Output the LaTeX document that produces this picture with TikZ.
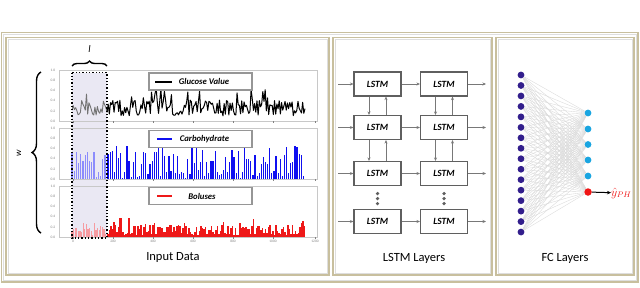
\documentclass[tikz,border=0pt]{standalone}
\usepackage{fontspec}
\setmainfont{Carlito}
\usetikzlibrary{decorations.pathreplacing,arrows.meta}
\definecolor{tanc}{RGB}{200,191,158}
\definecolor{shadc}{RGB}{222,222,222}
\definecolor{framec}{RGB}{200,200,200}
\definecolor{tickc}{RGB}{130,130,130}
\definecolor{winc}{RGB}{234,232,243}
\definecolor{glugray}{RGB}{115,115,115}
\definecolor{cblue}{RGB}{15,15,240}
\definecolor{cbluel}{RGB}{140,140,252}
\definecolor{bred}{RGB}{238,25,25}
\definecolor{bredl}{RGB}{246,155,160}
\definecolor{legc}{RGB}{150,150,150}
\definecolor{lstmc}{RGB}{95,95,95}
\definecolor{arrc}{RGB}{120,120,120}
\definecolor{indigo}{RGB}{50,30,140}
\definecolor{cyanc}{RGB}{25,165,225}
\definecolor{redn}{RGB}{240,20,20}
\definecolor{edgec}{RGB}{218,218,218}
\begin{document}
\begin{tikzpicture}[x=1pt,y=-1pt,
  tanline/.style={draw=tanc,line width=1.6pt},
  shadline/.style={draw=shadc,line width=0.8pt},
  chartframe/.style={draw=framec,line width=0.6pt},
  ticklab/.style={font=\fontsize{3.6}{4}\selectfont,text=tickc,inner sep=0pt},
  legbox/.style={draw=legc,line width=1.1pt,fill=white,minimum width=103pt,minimum height=17pt,inner sep=0pt},
  legtext/.style={font=\fontsize{8.7}{9}\selectfont\bfseries\itshape,inner sep=0pt},
  lstmbox/.style={draw=lstmc,line width=1.1pt,fill=white,minimum width=47pt,minimum height=24pt,inner sep=0pt,font=\fontsize{9.5}{10}\selectfont\bfseries\itshape},
  garrow/.style={draw=arrc,line width=0.9pt,-{Stealth[length=3.5pt,width=3pt]}},
  title/.style={font=\fontsize{12.5}{13}\selectfont,inner sep=0pt},
  inneuron/.style={circle,fill=indigo,minimum size=6.8pt,inner sep=0pt},
  hneuron/.style={circle,fill=cyanc,minimum size=6.8pt,inner sep=0pt},
  oneuron/.style={circle,fill=redn,minimum size=7.5pt,inner sep=0pt},
  fcedge/.style={draw=edgec,line width=0.35pt},
  dotc/.style={circle,fill=lstmc,minimum size=3.6pt,inner sep=0pt}
]
\useasboundingbox (0,0) rectangle (640,287);
\fill[white] (0,0) rectangle (640,287);

% ---------- frames ----------
\draw[tanline] (1.5,32.5) rectangle (638,282);
\draw[shadline] (3.5,34.5) rectangle (636,280);
\foreach \a/\b in {6/329,333/492,496/634}{
  \draw[tanline] (\a,37.5) rectangle (\b,275);
  \draw[shadline] (\a+2,39.5) rectangle (\b-2,273);
}

% ---------- Input data panel ----------
\fill[winc] (72,72.5) rectangle (107,238);

\foreach \t/\k in {70.5/1,128.5/2,186.5/3}{
  \draw[chartframe] (59,\t) rectangle (317,\t+50.5);
  \foreach \v/\lab in {0/1.0,1/0.8,2/0.6,3/0.4,4/0.2,5/0.0}{
    \node[ticklab] (yt\k\v) at (53,\t+\v*10.1) {\lab};
  }
  \foreach \xx in {73,113,153,193,233,273,315}{
    \draw[draw=tickc,line width=0.4pt] (\xx,\t+50.5) -- (\xx,\t+52);
  }
}
\foreach \xx/\lab/\k in {73/0/a,113/200/b,153/400/c,193/600/d,233/800/e,273/1000/f,315/1200/g}{
  \node[ticklab] (xt\k) at (\xx,241.5) {\lab};
}

\pgfmathsetseed{4242}
% glucose
\draw[glugray,line width=0.9pt,line join=round] plot[domain=72:107,samples=30] (\x,{121-50*(0.12+0.32*rnd+0.18*(rnd>0.85))});
\draw[black,line width=1pt,line join=round] plot[domain=107:305,samples=170] (\x,{121-50*(0.1+0.32*rnd+0.25*(rnd>0.88))});

% carbohydrate bars
\foreach \i in {72,74.2,...,106}{
  \pgfmathsetmacro\h{rnd<0.55 ? 0.3+0.25*rnd : 0.01+0.17*rnd}
  \draw[cbluel,line width=1.2pt] (\i,179) -- (\i,179-50*\h);
}
\foreach \i in {108,110.1,...,305}{
  \pgfmathsetmacro\h{rnd<0.55 ? 0.3+0.38*rnd : 0.01+0.17*rnd}
  \draw[cblue,line width=1.2pt] (\i,179) -- (\i,179-50*\h);
}
% boluses bars
\foreach \i in {72,73.6,...,106}{
  \pgfmathsetmacro\h{0.02+0.18*rnd+0.1*(rnd>0.8)}
  \draw[bredl,line width=1.1pt] (\i,237) -- (\i,237-50*\h);
}
\foreach \i in {108,109.5,...,305}{
  \pgfmathsetmacro\h{0.03+0.22*rnd+0.15*(rnd>0.82)}
  \draw[bred,line width=1.1pt] (\i,237) -- (\i,237-50*\h);
}

\draw[black,line width=1.3pt,dotted] (72,72.5) rectangle (107,238);

% legends
\node[legbox] (leg1) at (200.5,81.5) {};
\draw[black,line width=2pt] (155,81.5) -- (172,81.5);
\node[legtext] (legt1) at (204,81.5) {Glucose Value};
\node[legbox] (leg2) at (200.5,139) {};
\draw[cblue,line width=2pt] (157,138.5) -- (172,138.5);
\node[legtext] (legt2) at (204.5,139) {Carbohydrate};
\node[legbox] (leg3) at (200.5,196) {};
\draw[bred,line width=2pt] (157,196) -- (172,196);
\node[legtext] (legt3) at (202,196.5) {Boluses};

% braces
\draw[decorate,decoration={brace,amplitude=5pt},line width=1.4pt] (72,66) -- (107,66);
\node[inner sep=0pt,font=\fontsize{10}{10}\selectfont\itshape] (lab-l) at (89.5,49) {l};
\draw[decorate,decoration={brace,amplitude=9pt},line width=1.4pt] (41,233) -- (41,72);
\node[inner sep=0pt,rotate=90,font=\fontsize{9}{9}\selectfont\itshape] (lab-w) at (19,153) {w};

\node[title] (t1) at (173,257) {Input Data};

% ---------- LSTM panel ----------
\foreach \r/\yy in {1/84,2/127.5,3/173.5,4/221.5}{
  \node[lstmbox] (A\r) at (377.5,\yy) {LSTM};
  \node[lstmbox] (B\r) at (444,\yy) {LSTM};
  \coordinate (in\r) at (338,\yy);
  \coordinate (out\r) at (486,\yy);
  \draw[garrow] (in\r) -- (A\r);
  \draw[garrow] (A\r) -- (B\r);
  \draw[garrow] (B\r) -- (out\r);
}
\foreach \c in {A,B}{
  \foreach \r/\s in {1/2,2/3}{
    \draw[garrow] ([xshift=-8.5pt]\c\r.south) -- ([xshift=-8.5pt]\c\s.north);
    \draw[garrow] ([xshift=8.5pt]\c\s.north) -- ([xshift=8.5pt]\c\r.south);
  }
  \node[dotc] (\c d1) at ([yshift=-7.5pt]\c3.south) {};
  \node[dotc] (\c d2) at ([yshift=-12.5pt]\c3.south) {};
  \node[dotc] (\c d3) at ([yshift=-17.5pt]\c3.south) {};
}
\node[title] (t2) at (414,258) {LSTM Layers};

% ---------- FC panel ----------
\foreach \i in {1,...,16}{
  \node[inneuron] (L\i) at (521,{75+(\i-1)*10.47}) {};
}
\foreach \j/\yy in {1/113,2/129,3/144.5,4/160,5/176}{
  \node[hneuron] (R\j) at (588,\yy) {};
}
\node[oneuron] (R6) at (588,192) {};
\foreach \i in {1,...,16}{
  \foreach \j in {1,...,6}{
    \draw[fcedge] (L\i) -- (R\j);
  }
}
\node[inner sep=0pt,anchor=west,text=redn,font=\fontsize{11.5}{12}\selectfont] (yhat) at (611,193) {$\hat{y}_{PH}$};
\draw[black,line width=1pt,-{Stealth[length=4pt,width=3.5pt]}] (R6) -- (yhat);
\node[title] (t3) at (565,258) {FC Layers};
\end{tikzpicture}
\end{document}
